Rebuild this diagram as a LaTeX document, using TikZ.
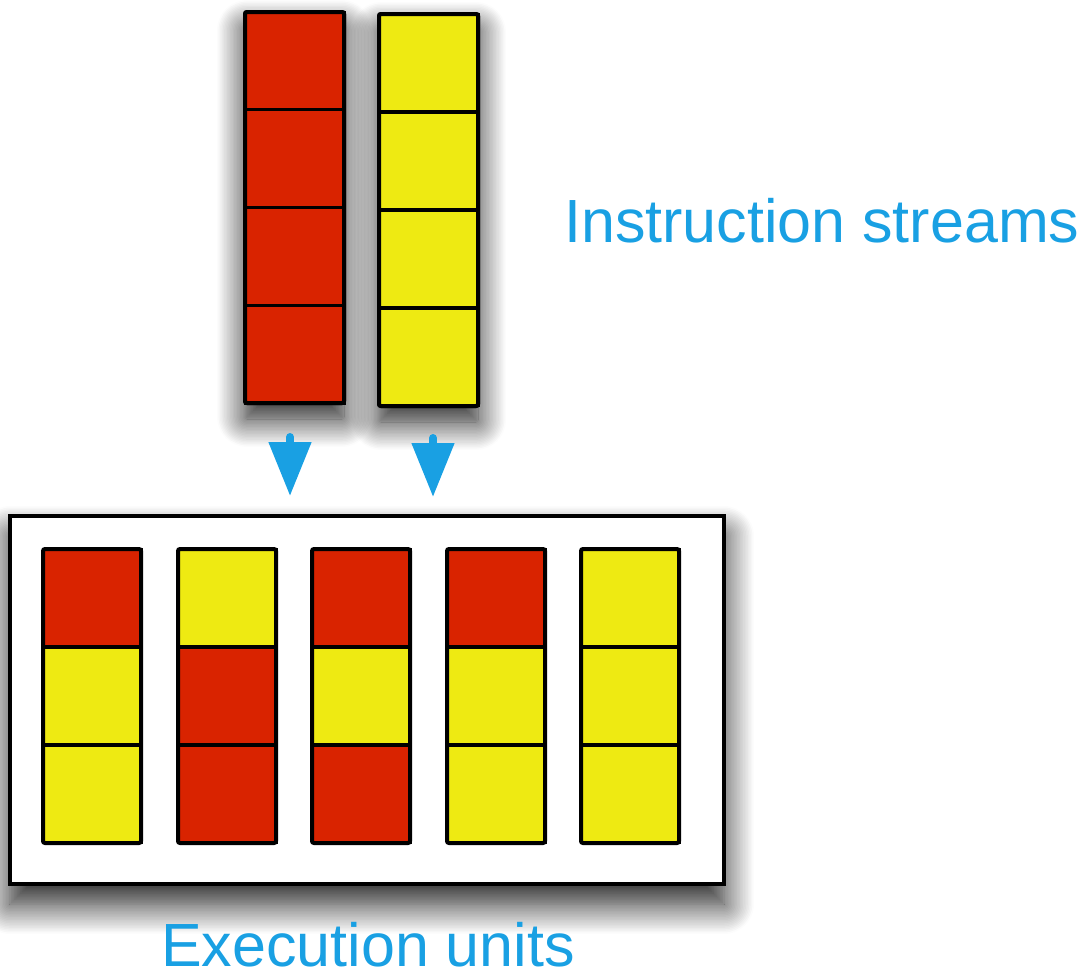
\documentclass[tikz,border=0pt]{standalone}
\usepackage{fontspec}
\setmainfont{Liberation Sans}
\usetikzlibrary{shadows.blur,arrows.meta}
\definecolor{cellred}{HTML}{D92300}
\definecolor{cellyellow}{HTML}{EEEA12}
\definecolor{labelblue}{HTML}{19A0E3}
\tikzset{
  cell/.style={draw=black, line width=3pt, minimum width=98pt, minimum height=97.75pt, inner sep=0pt, outer sep=0pt},
  colframe/.style={draw=black, line width=4pt, rounded corners=2pt, inner sep=0pt, outer sep=0pt},
  dropshadow/.style={blur shadow={shadow xshift=0pt, shadow yshift=-16pt, shadow blur radius=28pt, shadow opacity=90, shadow blur steps=20}},
  boxshadow/.style={blur shadow={shadow xshift=0pt, shadow yshift=-20pt, shadow blur radius=30pt, shadow opacity=90, shadow blur steps=20}},
  tag/.style={text=labelblue, font=\fontsize{61}{70}\selectfont, inner sep=0pt},
  flow/.style={draw=labelblue, line width=8pt, line cap=round, -{Triangle[width=41pt,length=54pt]}}
}
\begin{document}
\begin{tikzpicture}[x=1pt,y=-1pt]
\useasboundingbox (0,0) rectangle (1085,978);

% instruction streams: one red, one yellow
\node[colframe, dropshadow, fill=white, minimum width=99pt, minimum height=391pt] (sred) at (294.5,207.5) {};
\foreach \i in {0,...,3}
  \node[cell, fill=cellred, minimum width=99pt] (sred\i) at (294.5,{12+97.75*(\i+0.5)}) {};
\node[colframe, minimum width=99pt, minimum height=391pt] at (sred.center) {};

\node[colframe, dropshadow, fill=white, minimum width=99pt, minimum height=392pt] (syel) at (428.5,210) {};
\foreach \i in {0,...,3}
  \node[cell, fill=cellyellow, minimum width=99pt] (syel\i) at (428.5,{14+98*(\i+0.5)}) {};
\node[colframe, minimum width=99pt, minimum height=392pt] at (syel.center) {};

% arrows from the streams into the execution units
\coordinate (a1) at (290,437);
\coordinate (b1) at (290,496);
\coordinate (a2) at (433,438);
\coordinate (b2) at (433,497);
\draw[flow] (a1) -- (b1);
\draw[flow] (a2) -- (b2);

% execution unit box
\node[draw=black, line width=4pt, fill=white, boxshadow, minimum width=714pt, minimum height=368pt, inner sep=0pt] (units) at (367,700) {};

% five execution units, three slots each
\foreach \x/\a/\b/\c [count=\n] in {92/cellred/cellyellow/cellyellow,
                                    227/cellyellow/cellred/cellred,
                                    361/cellred/cellyellow/cellred,
                                    496/cellred/cellyellow/cellyellow,
                                    630/cellyellow/cellyellow/cellyellow}{
  \node[cell, fill=\a] (u\n a) at (\x,598) {};
  \node[cell, fill=\b] (u\n b) at (\x,696) {};
  \node[cell, fill=\c] (u\n c) at (\x,794) {};
  \node[colframe, minimum width=98pt, minimum height=294pt] (u\n) at (\x,696) {};
}

% labels
\node[tag, anchor=base west] (lstreams) at (564,242) {Instruction streams};
\node[tag, anchor=base] (lunits) at (368,966) {Execution units};
\end{tikzpicture}
\end{document}
